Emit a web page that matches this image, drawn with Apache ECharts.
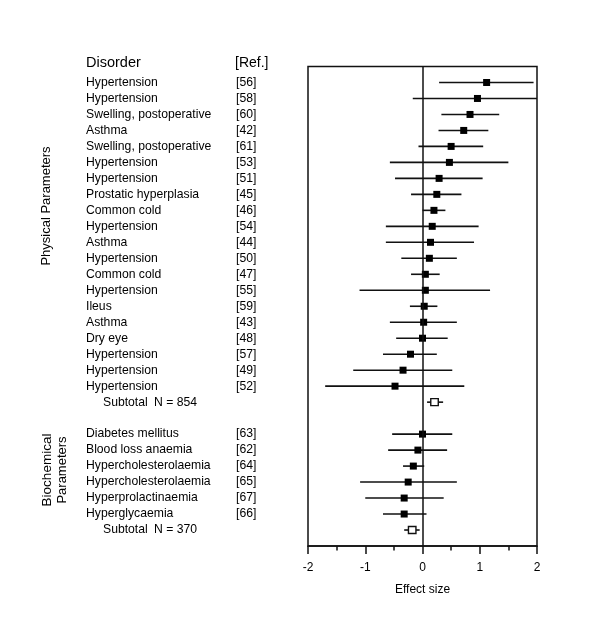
<!DOCTYPE html>
<html><head><meta charset="utf-8">
<script src="https://cdn.jsdelivr.net/npm/echarts@6/dist/echarts.min.js"></script>
<style>html,body{margin:0;padding:0;background:#fff}#c{width:600px;height:623px}</style>
</head><body><div id="c"></div>
<script>
// ---- data ----
const disorders = ["Hypertension","Hypertension","Swelling, postoperative","Asthma","Swelling, postoperative","Hypertension","Hypertension","Prostatic hyperplasia","Common cold","Hypertension","Asthma","Hypertension","Common cold","Hypertension","Ileus","Asthma","Dry eye","Hypertension","Hypertension","Hypertension",
  "Diabetes mellitus","Blood loss anaemia","Hypercholesterolaemia","Hypercholesterolaemia","Hyperprolactinaemia","Hyperglycaemia"];
const refs = ["[56]","[58]","[60]","[42]","[61]","[53]","[51]","[45]","[46]","[54]","[44]","[50]","[47]","[55]","[59]","[43]","[48]","[57]","[49]","[52]",
  "[63]","[62]","[64]","[65]","[67]","[66]"];
const rows = [0,1,2,3,4,5,6,7,8,9,10,11,12,13,14,15,16,17,18,19, 22,23,24,25,26,27];
const est = [1.12,0.96,0.83,0.72,0.50,0.47,0.29,0.25,0.20,0.17,0.14,0.12,0.05,0.05,0.03,0.02,0.00,-0.21,-0.34,-0.48,
  0.00,-0.08,-0.16,-0.25,-0.32,-0.32];
const lo = [0.29,-0.17,0.33,0.28,-0.07,-0.57,-0.48,-0.20,0.00,-0.64,-0.64,-0.37,-0.20,-1.10,-0.22,-0.57,-0.46,-0.69,-1.21,-1.70,
  -0.53,-0.60,-0.34,-1.09,-1.00,-0.69];
const hi = [1.94,2.00,1.34,1.15,1.06,1.50,1.05,0.68,0.40,0.98,0.90,0.60,0.30,1.18,0.26,0.60,0.44,0.25,0.52,0.73,
  0.52,0.43,0.03,0.60,0.37,0.07];
const subRows = [20, 28];
const subLabels = ["N = 854", "N = 370"];
const subEst = [0.21, -0.18];
const subLo = [0.08, -0.32];
const subHi = [0.36, -0.05];
const xTicks = [-2, -1, 0, 1, 2];

// ---- build ----
const studyData = rows.map((r,i)=>[lo[i], hi[i], est[i], r]);
const subData = subRows.map((r,i)=>[subLo[i], subHi[i], subEst[i], r]);
const FONT = '"Liberation Sans", Arial, sans-serif';

function forest(filled){
  return function(params, api){
    const y = api.value(3);
    const a = api.coord([api.value(0), y]);
    const b = api.coord([api.value(1), y]);
    const c = api.coord([api.value(2), y]);
    const s = filled ? 7 : 7.5;
    const h = filled ? 7 : 7;
    return {type:'group', children:[
      {type:'line', shape:{x1:a[0],y1:a[1],x2:b[0],y2:b[1]}, style:{stroke:'#111',lineWidth:1.6}},
      {type:'rect', shape:{x:c[0]-s/2,y:c[1]-h/2,width:s,height:h},
        style:{fill: filled ? '#000' : '#fff', stroke:'#111', lineWidth: filled?0:1.4}}
    ]};
  };
}

const labelData = rows.map((r,i)=>[-2, r]);
function labels(params, api){
  const i = params.dataIndex;
  const p = api.coord([-2, api.value(1)]);
  return {type:'group', children:[
    {type:'text', x:86, y:p[1], style:{text:disorders[i], font:'12.2px '+FONT, fill:'#000', textAlign:'left', textVerticalAlign:'middle'}},
    {type:'text', x:236, y:p[1], style:{text:refs[i], font:'12.2px '+FONT, fill:'#000', textAlign:'left', textVerticalAlign:'middle'}}
  ]};
}
const subLabelData = subRows.map(r=>[-2, r]);
function subLabelsR(params, api){
  const i = params.dataIndex;
  const p = api.coord([-2, api.value(1)]);
  return {type:'group', children:[
    {type:'text', x:103, y:p[1], style:{text:'Subtotal', font:'12.2px '+FONT, fill:'#000', textAlign:'left', textVerticalAlign:'middle'}},
    {type:'text', x:154, y:p[1], style:{text:subLabels[i], font:'12.2px '+FONT, fill:'#000', textAlign:'left', textVerticalAlign:'middle'}}
  ]};
}

const chart = echarts.init(document.getElementById('c'), null, {renderer:'canvas'});
chart.setOption({
  animation:false,
  backgroundColor:'#fff',
  textStyle:{fontFamily:FONT},
  grid:{left:308, right:63, top:66.5, bottom:77, show:true, borderColor:'#111', borderWidth:1.5, backgroundColor:'transparent'},
  xAxis:{type:'value', min:-2, max:2, interval:1,
    axisLine:{show:true, onZero:false, lineStyle:{color:'#111', width:1.5}},
    axisTick:{show:true, inside:false, length:8, lineStyle:{color:'#111', width:1.5}},
    minorTick:{show:true, splitNumber:2, length:4.5, lineStyle:{color:'#111', width:1.5}},
    splitLine:{show:false},
    axisLabel:{color:'#000', fontSize:12, margin:16, formatter:v=>String(v)},
    name:'Effect size', nameLocation:'middle', nameGap:38, nameTextStyle:{color:'#000', fontSize:12}
  },
  yAxis:{type:'value', inverse:true, min:-1, max:29, show:false},
  graphic:[
    {type:'text', x:86, y:63, style:{text:'Disorder', font:'14.5px '+FONT, fill:'#000', textVerticalAlign:'middle'}},
    {type:'text', x:235, y:63, style:{text:'[Ref.]', font:'14px '+FONT, fill:'#000', textVerticalAlign:'middle'}},
    {type:'text', x:46, y:206, rotation:Math.PI/2, style:{text:'Physical Parameters', font:'13px '+FONT, fill:'#000', textAlign:'center', textVerticalAlign:'middle'}},
    {type:'text', x:47, y:470, rotation:Math.PI/2, style:{text:'Biochemical', font:'13.5px '+FONT, fill:'#000', textAlign:'center', textVerticalAlign:'middle'}},
    {type:'text', x:62, y:470, rotation:Math.PI/2, style:{text:'Parameters', font:'13px '+FONT, fill:'#000', textAlign:'center', textVerticalAlign:'middle'}}
  ],
  series:[
    {type:'custom', data:studyData, renderItem:forest(true), clip:false, z:3,
      markLine:{silent:true, symbol:'none', label:{show:false}, lineStyle:{color:'#111', width:1.5, type:'solid'}, data:[{xAxis:0}]}},
    {type:'custom', data:subData, renderItem:forest(false), clip:false, z:3},
    {type:'custom', data:labelData, renderItem:labels, clip:false},
    {type:'custom', data:subLabelData, renderItem:subLabelsR, clip:false}
  ]
});
</script></body></html>
